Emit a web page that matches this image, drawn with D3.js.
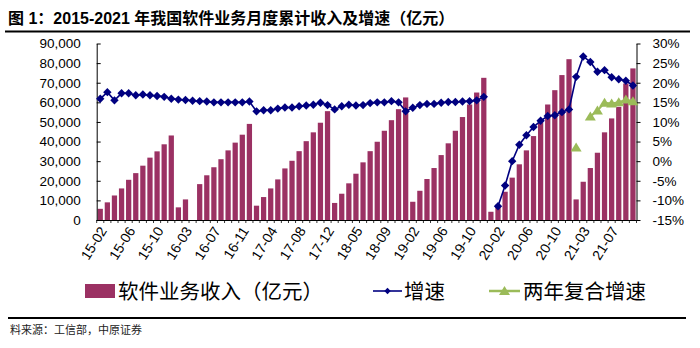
<!DOCTYPE html>
<html><head><meta charset="utf-8">
<script src="https://cdn.jsdelivr.net/npm/d3@7/dist/d3.min.js"></script>
<style>
body{margin:0;background:#fff;}
svg{display:block;}
text{font-family:"Liberation Sans","Noto Sans CJK SC",sans-serif;}
</style></head>
<body>
<svg id="chart" width="700" height="348"></svg>
<script>
// ---------- data ----------
const categories = [
 "15-02","15-03","15-04","15-05","15-06","15-07","15-08","15-09","15-10","15-11","15-12",
 "16-02","16-03","16-04","16-05","16-06","16-07","16-08","16-09","16-10","16-11","16-12",
 "17-02","17-03","17-04","17-05","17-06","17-07","17-08","17-09","17-10","17-11","17-12",
 "18-02","18-03","18-04","18-05","18-06","18-07","18-08","18-09","18-10","18-11","18-12",
 "19-02","19-03","19-04","19-05","19-06","19-07","19-08","19-09","19-10","19-11","19-12",
 "20-01",
 "20-02","20-03","20-04","20-05","20-06","20-07","20-08","20-09","20-10","20-11","20-12",
 "21-02","21-03","21-04","21-05","21-06","21-07","21-08","21-09","21-10"
];
// 软件业务收入（亿元）
const revenue = [
 5700,9000,12500,16100,20500,23900,27700,31800,35000,38600,43100,
 6450,10500,null,18300,22800,26900,31000,35500,39450,43500,49000,
 7300,11700,16100,20700,26300,30200,35100,40200,44700,49600,55500,
 8700,13400,18700,23600,29400,35100,39900,45500,50900,56500,62500,
 9300,14900,20900,26500,33100,39100,45500,52500,58900,65000,72500,
 4200,
 7800,14400,21600,28400,35500,42800,49800,58900,66200,73900,82000,
 10500,19500,26500,34300,44700,51800,57700,69600,77300
];
// 增速（%）
const growth = [
 15.9,17.6,15.5,17.3,17.3,16.8,17.0,16.8,16.6,16.4,15.9,
 15.7,15.6,15.4,15.3,15.2,15.0,15.0,15.0,15.0,15.0,15.2,
 12.7,13.0,13.0,13.4,13.7,13.7,14.0,14.2,14.4,14.9,14.3,
 13.2,14.0,14.4,14.2,14.3,14.8,15.0,15.0,15.3,15.0,12.7,
 13.6,14.3,14.6,14.6,14.9,15.1,15.1,15.2,15.3,15.5,16.4,
 null,
 -11.5,-6.2,0.0,4.2,6.6,8.7,10.3,11.5,11.7,12.5,13.2,
 21.5,26.7,25.3,22.8,23.2,21.4,20.9,20.5,19.3
];
// 两年复合增速（%）
const growth2y = new Array(67).fill(null).concat([3.5,null,11.4,12.9,14.9,14.7,15.0,15.7,15.3]);

const leftTicks = [0,10000,20000,30000,40000,50000,60000,70000,80000,90000];
const rightTicks = [-15,-10,-5,0,5,10,15,20,25,30];
const xLabelEvery = 4;

const titleText = "图 1：2015-2021 年我国软件业务月度累计收入及增速（亿元）";
const legendNames = ["软件业务收入（亿元）","增速","两年复合增速"];
const sourceText = "料来源：工信部，中原证券";

// ---------- styles ----------
const barColor = "#9b3163", lineColor = "#000080", greenColor = "#9bbb59";

const svg = d3.select("#chart");
svg.append("rect").attr("width",700).attr("height",348).attr("fill","#fff");

const plotL = 96.7, plotR = 636.5, plotT = 43.5, plotB = 220;

const x = d3.scaleBand().domain(categories).range([plotL, plotR]).paddingInner(0.26).paddingOuter(0.13);
const yL = d3.scaleLinear().domain([0,90000]).range([plotB, plotT]);
const yR = d3.scaleLinear().domain([-15,30]).range([plotB, plotT]);
const cx = c => x(c) + x.bandwidth()/2;

// title
svg.append("text").attr("x",8).attr("y",24).attr("font-size",16).attr("font-weight","bold")
  .attr("fill","#000").text(titleText);
svg.append("line").attr("x1",5).attr("x2",690).attr("y1",31.5).attr("y2",31.5)
  .attr("stroke","#000").attr("stroke-width",2.2);

// bars
const barData = categories.map((c,i)=>({c, v:revenue[i]})).filter(d=>d.v!=null);
svg.append("g").selectAll("rect").data(barData).join("rect")
  .attr("x", d=>x(d.c)).attr("width", x.bandwidth())
  .attr("y", d=>yL(d.v)).attr("height", d=>plotB - yL(d.v))
  .attr("fill", barColor);

// axes
const gL = svg.append("g").attr("transform",`translate(${plotL},0)`)
  .call(d3.axisLeft(yL).tickValues(leftTicks).tickFormat(d3.format(",")).tickSizeInner(-4).tickSizeOuter(0).tickPadding(16));
const gR = svg.append("g").attr("transform",`translate(${plotR},0)`)
  .call(d3.axisRight(yR).tickValues(rightTicks).tickFormat(d=>d+"%").tickSizeInner(4).tickSizeOuter(0).tickPadding(12));
[gL,gR].forEach(g=>{
  g.select(".domain").attr("stroke","#000").attr("stroke-width",1);
  g.selectAll(".tick line").attr("stroke","#000");
  g.selectAll(".tick text").attr("font-size",13.5).attr("fill","#000")
    .attr("font-family","Liberation Sans, Arial, sans-serif");
});

// x axis
const gX = svg.append("g");
gX.append("line").attr("x1",plotL).attr("x2",plotR).attr("y1",plotB+0.5).attr("y2",plotB+0.5).attr("stroke","#000");
gX.selectAll("line.tk").data(categories.concat(["__end"])).join("line").attr("class","tk")
  .attr("x1",(d,i)=> i<categories.length ? x(d) - x.step()*x.paddingInner()/2 : plotR)
  .attr("x2",(d,i)=> i<categories.length ? x(d) - x.step()*x.paddingInner()/2 : plotR)
  .attr("y1",plotB).attr("y2",plotB+3).attr("stroke","#000").attr("stroke-width",0.8);
gX.selectAll("text").data(categories.filter((c,i)=>i%xLabelEvery===0)).join("text")
  .attr("transform", d=>`translate(${cx(d)+3},${plotB+8}) rotate(-58)`)
  .attr("text-anchor","end").attr("dy","0.35em").attr("font-size",14).attr("fill","#000")
  .text(d=>d);

// growth line
const gData = categories.map((c,i)=>({c, v:growth[i]}));
svg.append("path").datum(gData)
  .attr("d", d3.line().defined(d=>d.v!=null).x(d=>cx(d.c)).y(d=>yR(d.v)))
  .attr("fill","none").attr("stroke",lineColor).attr("stroke-width",1.6);
const diamond = "M0,-4.2L4.2,0L0,4.2L-4.2,0Z";
svg.append("g").selectAll("path").data(gData.filter(d=>d.v!=null)).join("path")
  .attr("d",diamond).attr("transform",d=>`translate(${cx(d.c)},${yR(d.v)})`).attr("fill",lineColor);

// two-year line
const tData = categories.map((c,i)=>({c, v:growth2y[i]}));
svg.append("path").datum(tData)
  .attr("d", d3.line().defined(d=>d.v!=null).x(d=>cx(d.c)).y(d=>yR(d.v)))
  .attr("fill","none").attr("stroke",greenColor).attr("stroke-width",2);
const tri = "M0,-5L5.5,4L-5.5,4Z";
svg.append("g").selectAll("path").data(tData.filter(d=>d.v!=null)).join("path")
  .attr("d",tri).attr("transform",d=>`translate(${cx(d.c)},${yR(d.v)})`).attr("fill",greenColor);

// legend
const lg = svg.append("g").attr("font-family","Noto Sans CJK SC, sans-serif");
lg.append("rect").attr("x",85).attr("y",284).attr("width",30).attr("height",14).attr("fill",barColor);
lg.append("text").attr("x",118).attr("y",298.5).attr("font-size",20.5).attr("fill","#000").text(legendNames[0]);
lg.append("line").attr("x1",373).attr("x2",402).attr("y1",291).attr("y2",291).attr("stroke",lineColor).attr("stroke-width",1.6);
lg.append("path").attr("d","M0,-3.2L3.2,0L0,3.2L-3.2,0Z").attr("transform","translate(387.5,291)").attr("fill",lineColor);
lg.append("text").attr("x",404).attr("y",298.5).attr("font-size",20.5).attr("fill","#000").text(legendNames[1]);
lg.append("line").attr("x1",489).attr("x2",520).attr("y1",291).attr("y2",291).attr("stroke",greenColor).attr("stroke-width",2.5);
lg.append("path").attr("d","M0,-5L5.5,4L-5.5,4Z").attr("transform","translate(504.5,291)").attr("fill",greenColor);
lg.append("text").attr("x",523).attr("y",298.5).attr("font-size",20.5).attr("fill","#000").text(legendNames[2]);

// bottom rule & source
svg.append("line").attr("x1",8).attr("x2",686).attr("y1",318).attr("y2",318).attr("stroke","#000").attr("stroke-width",2.2);
svg.append("text").attr("x",10).attr("y",334).attr("font-size",11).attr("fill","#222")
  .attr("font-family","Noto Sans CJK SC, sans-serif").text(sourceText);
</script>
</body></html>
